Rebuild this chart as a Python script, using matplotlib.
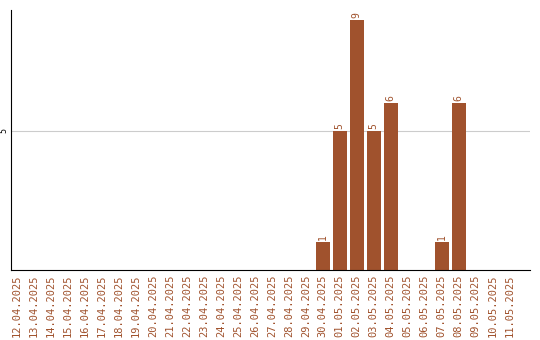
import matplotlib
matplotlib.use("Agg")
import matplotlib.pyplot as plt
import numpy as np

dates = ["12.04.2025","13.04.2025","14.04.2025","15.04.2025","16.04.2025","17.04.2025",
         "18.04.2025","19.04.2025","20.04.2025","21.04.2025","22.04.2025","23.04.2025",
         "24.04.2025","25.04.2025","26.04.2025","27.04.2025","28.04.2025","29.04.2025",
         "30.04.2025","01.05.2025","02.05.2025","03.05.2025","04.05.2025","05.05.2025",
         "06.05.2025","07.05.2025","08.05.2025","09.05.2025","10.05.2025","11.05.2025"]
values = [0,0,0,0,0,0,0,0,0,0,0,0,0,0,0,0,0,0,1,5,9,5,6,0,0,1,6,0,0,0]
yticks = [5]

color = "#A0522D"
fig = plt.figure(figsize=(5.4, 3.4), dpi=100)
ax = fig.add_axes([11/540, 1-270/340, (530-11)/540, 260/340])
x = np.arange(len(dates))
ax.bar(x, values, width=0.82, color=color, zorder=2)
for xi, v in zip(x, values):
    if v > 0:
        ax.text(xi, v + 0.08, str(v), rotation=90, ha="center", va="bottom",
                fontsize=7, color=color, family="DejaVu Sans Mono")
ax.set_xlim(-0.35, 30.2)
ax.set_ylim(0, 9.35)
ax.set_yticks(yticks)
ax.set_yticklabels([str(t) for t in yticks], rotation=90, va="center", fontsize=6,
                   family="DejaVu Sans Mono")
ax.yaxis.grid(True, color="#cccccc", linewidth=0.8, zorder=0)
ax.set_xticks(x)
ax.set_xticklabels(dates, rotation=90, fontsize=7.5, color=color, family="DejaVu Sans Mono")
ax.tick_params(axis="both", length=0, pad=3)
ax.tick_params(axis="y", pad=2)
for s in ["top", "right"]:
    ax.spines[s].set_visible(False)
ax.spines["left"].set_color("black")
ax.spines["bottom"].set_color("black")
fig.savefig("out.png", dpi=100)
